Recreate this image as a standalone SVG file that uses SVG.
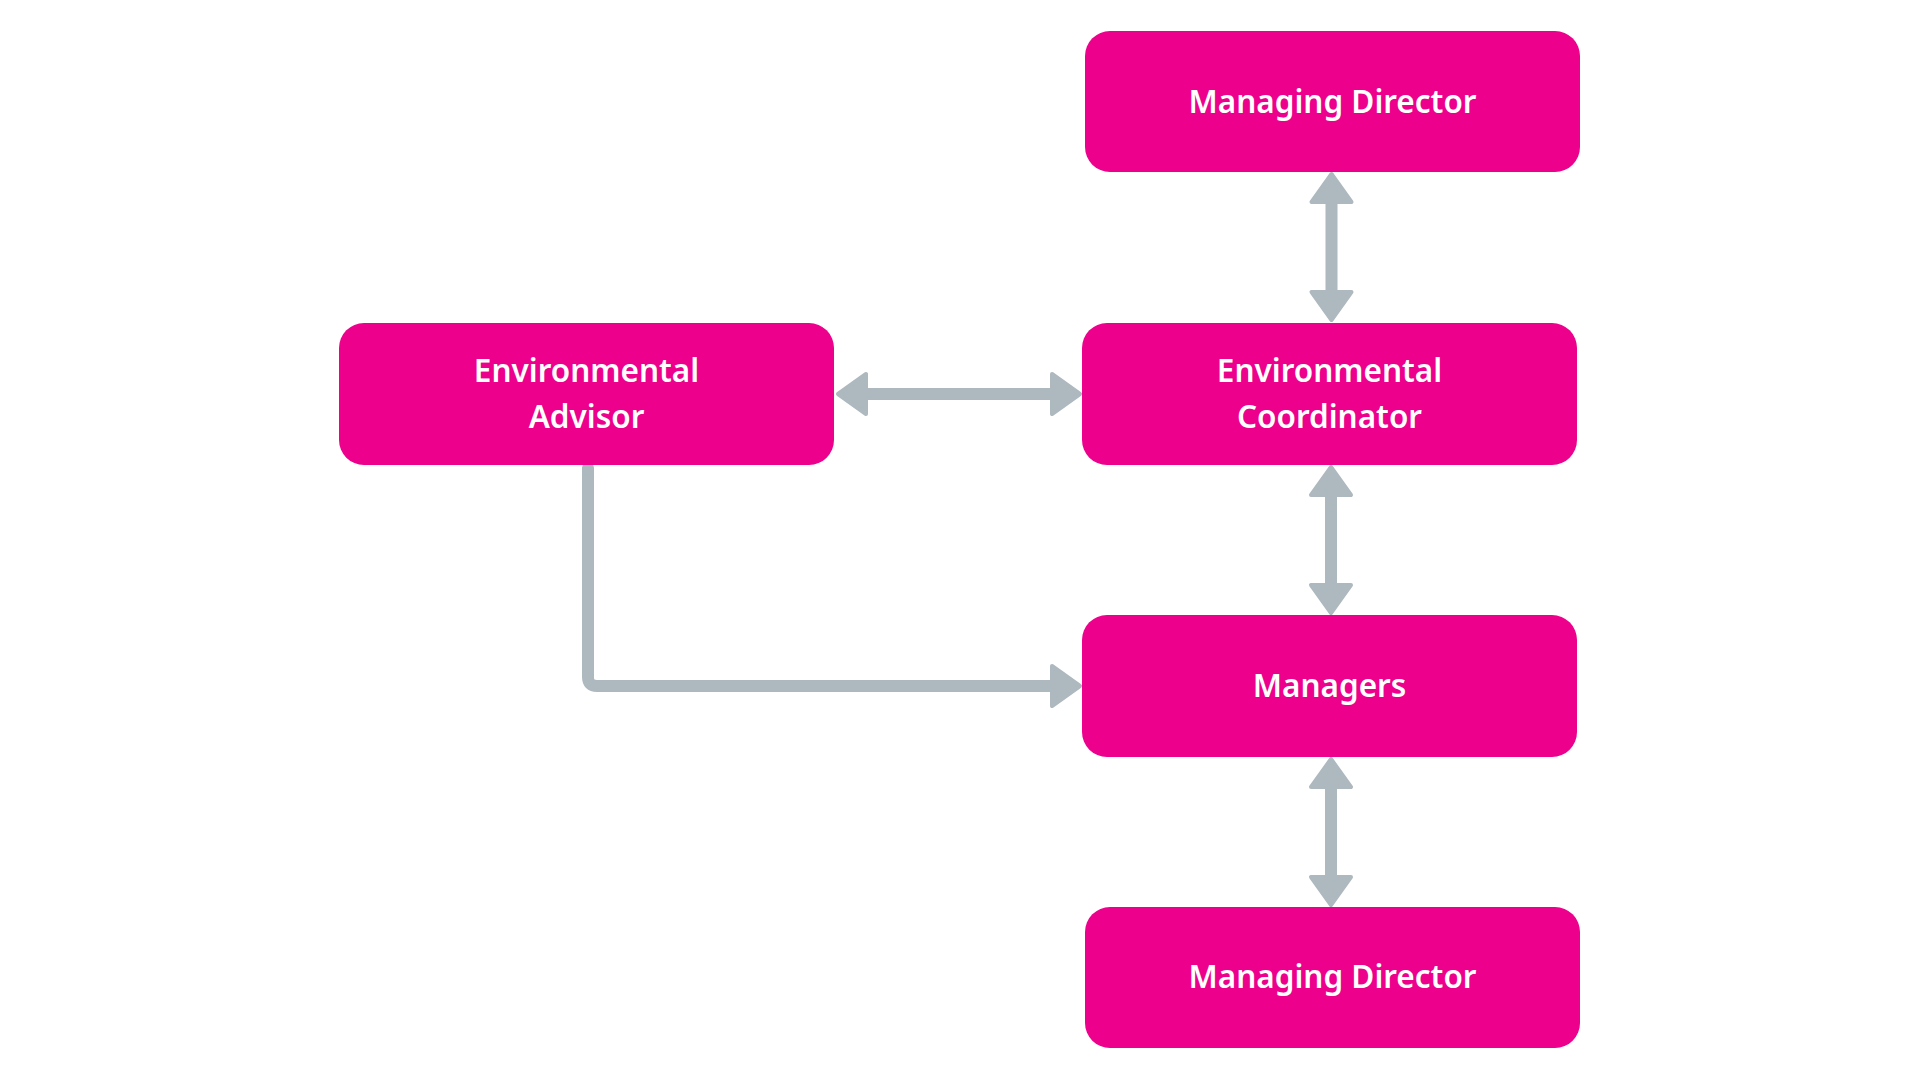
<svg xmlns="http://www.w3.org/2000/svg" width="1920" height="1080" viewBox="0 0 1920 1080">
<style>
.box{fill:#ec008c}
.lbl{fill:#ffffff;font-family:"Noto Sans","Liberation Sans",sans-serif;font-weight:600;font-size:31.5px;text-anchor:middle}
.con{fill:none;stroke:#adb8bf;stroke-width:12}
</style>
<defs>
<marker id="ah" viewBox="-3 -25 36 50" refX="0" refY="0" markerWidth="36" markerHeight="50" markerUnits="userSpaceOnUse" orient="auto-start-reverse">
<path d="M0,-20 L28,0 L0,20 Z" fill="#adb8bf" stroke="#adb8bf" stroke-width="4" stroke-linejoin="round"/>
</marker>
</defs>
<rect width="1920" height="1080" fill="#ffffff"/>
<g id="connectors">
<path class="con" d="M1331.5,202 V292" marker-start="url(#ah)" marker-end="url(#ah)"/>
<path class="con" d="M866,394 H1052" marker-start="url(#ah)" marker-end="url(#ah)"/>
<path class="con" d="M1331,495 V585" marker-start="url(#ah)" marker-end="url(#ah)"/>
<path class="con" d="M1331,787 V877" marker-start="url(#ah)" marker-end="url(#ah)"/>
<path class="con" d="M588,468 V677 Q588,686 597,686 H1052" stroke-width="11" stroke-linecap="round" stroke-linejoin="round" marker-end="url(#ah)"/>
</g>
<g id="node-md-top">
<rect class="box" x="1085" y="31" width="495" height="141" rx="25"/>
<text class="lbl" x="1332.5" y="113">Managing Director</text>
</g>
<g id="node-env-advisor">
<rect class="box" x="339" y="323" width="495" height="142" rx="25"/>
<text class="lbl" x="586.5" y="382">Environmental</text>
<text class="lbl" x="586.5" y="428">Advisor</text>
</g>
<g id="node-env-coordinator">
<rect class="box" x="1082" y="323" width="495" height="142" rx="25"/>
<text class="lbl" x="1329.5" y="382">Environmental</text>
<text class="lbl" x="1329.5" y="428">Coordinator</text>
</g>
<g id="node-managers">
<rect class="box" x="1082" y="615" width="495" height="142" rx="25"/>
<text class="lbl" x="1329.5" y="697">Managers</text>
</g>
<g id="node-md-bottom">
<rect class="box" x="1085" y="907" width="495" height="141" rx="25"/>
<text class="lbl" x="1332.5" y="988">Managing Director</text>
</g>
</svg>
